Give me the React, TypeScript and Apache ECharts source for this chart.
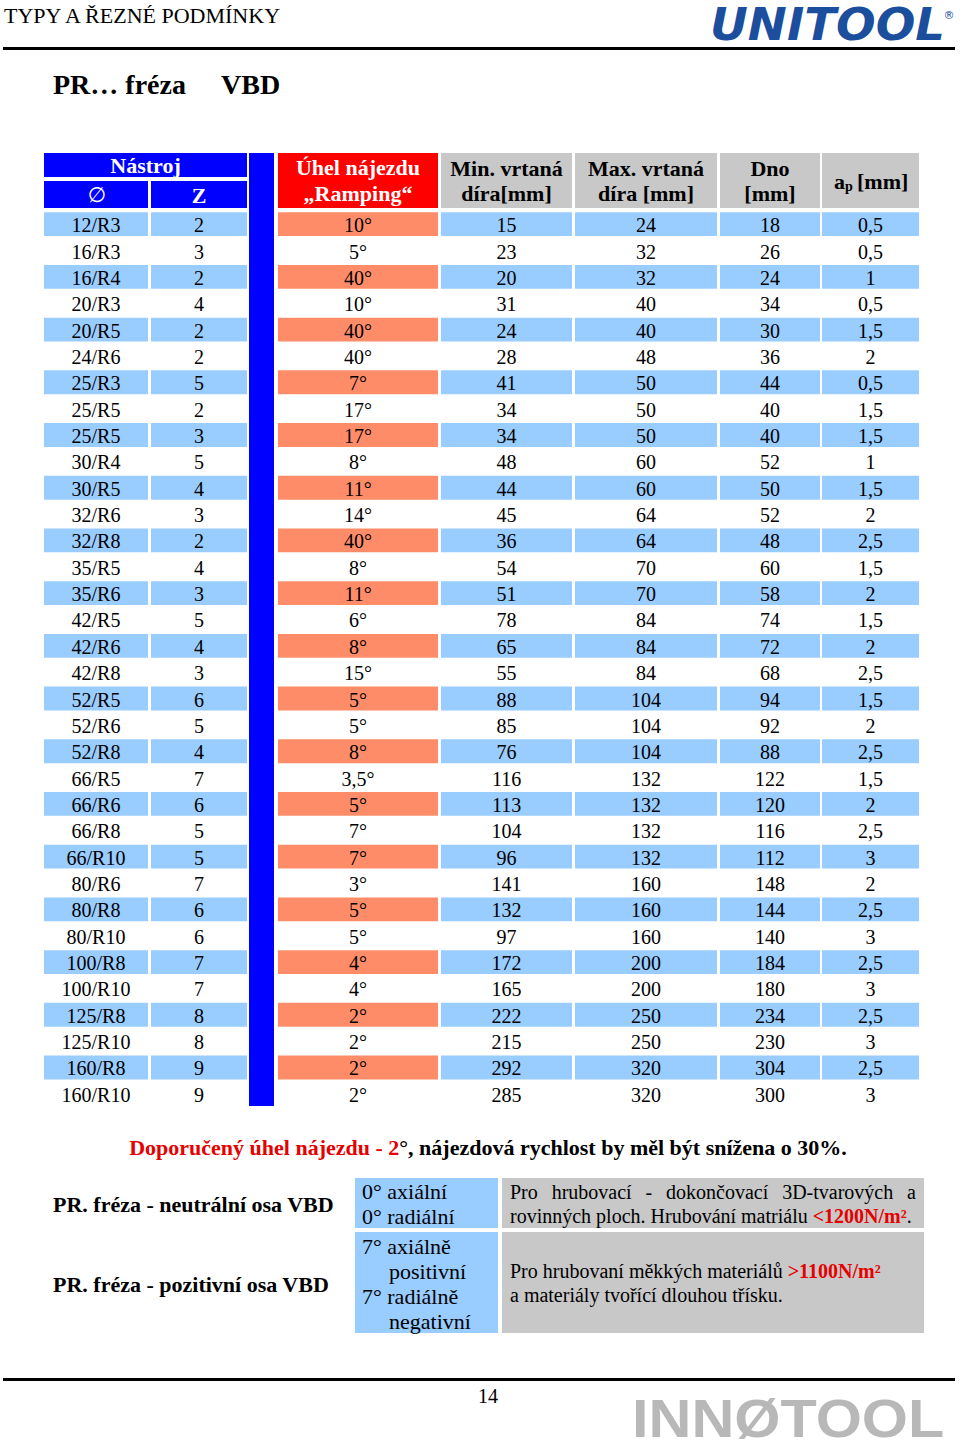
import React, { useEffect, useRef } from "react";
import * as echarts from "echarts";

// ---------- data ----------
const tools = ["12/R3","16/R3","16/R4","20/R3","20/R5","24/R6","25/R3","25/R5","25/R5","30/R4","30/R5","32/R6","32/R8","35/R5","35/R6","42/R5","42/R6","42/R8","52/R5","52/R6","52/R8","66/R5","66/R6","66/R8","66/R10","80/R6","80/R8","80/R10","100/R8","100/R10","125/R8","125/R10","160/R8","160/R10"];
const teeth = [2,3,2,4,2,2,5,2,3,5,4,3,2,4,3,5,4,3,6,5,4,7,6,5,5,7,6,6,7,7,8,8,9,9];
const rampAngle = [10,5,40,10,40,40,7,17,17,8,11,14,40,8,11,6,8,15,5,5,8,3.5,5,7,7,3,5,5,4,4,2,2,2,2];
const minHole = [15,23,20,31,24,28,41,34,34,48,44,45,36,54,51,78,65,55,88,85,76,116,113,104,96,141,132,97,172,165,222,215,292,285];
const maxHole = [24,32,32,40,40,48,50,50,50,60,60,64,64,70,70,84,84,84,104,104,104,132,132,132,132,160,160,160,200,200,250,250,320,320];
const pocketDepth = [18,26,24,34,30,36,44,40,40,52,50,52,48,60,58,74,72,68,94,92,88,122,120,116,112,148,144,140,184,180,234,230,304,300];
const apDepth = [0.5,0.5,1,0.5,1.5,2,0.5,1.5,1.5,1,1.5,2,2.5,1.5,2,1.5,2,2.5,1.5,2,2.5,1.5,2,2.5,3,2,2.5,3,2.5,3,2.5,3,2.5,3];

const headerLines = [["Min. vrtaná", "díra[mm]"], ["Max. vrtaná", "díra [mm]"], ["Dno", "[mm]"]];
const rampHeader = ["Úhel nájezdu", "„Ramping“"];
const noteRed = "Doporučený úhel nájezdu - 2";
const noteBlack = "°, nájezdová rychlost by měl být snížena o 30%.";
const typeLabels = ["PR. fréza - neutrální osa VBD", "PR. fréza - pozitivní osa VBD"];
const angleLines1 = ["0° axiální", "0° radiální"];
const angleLines2 = [["7° axiálně", 0], ["positivní", 1], ["7° radiálně", 0], ["negativní", 1]];
const descWords1 = ["Pro", "hrubovací", "-", "dokončovací", "3D-tvarových", "a"];

// ---------- style / layout ----------
const SERIF = '"Liberation Serif", "Times New Roman", serif';
const BLUE = "#99CCFF";
const SALMON = "#FF8C69";
const HEAD_BLUE = "#0000FF";
const HEAD_RED = "#FF0000";
const GRAY = "#C8C8C8";
const RED = "#E60000";
const COLS = [
  { l: 44, r: 148 }, { l: 151, r: 247 }, { l: 278, r: 438 }, { l: 441, r: 572 },
  { l: 575, r: 717 }, { l: 720, r: 820 }, { l: 822, r: 919 },
];

const fmt = (v: number) => String(v).replace(".", ",");

function measure(text: string, font: string): number {
  const c = document.createElement("canvas");
  const ctx = c.getContext("2d");
  if (!ctx) return text.length * 9;
  ctx.font = font;
  return ctx.measureText(text).width;
}

function txt(text: string, x: number, y: number, opts: any = {}) {
  return {
    type: "text",
    x, y,
    style: {
      text, x: 0, y: 0,
      align: opts.align || "center",
      verticalAlign: "middle",
      fill: opts.fill || "#000",
      fontFamily: opts.fontFamily || SERIF,
      fontSize: opts.fontSize || 20,
      fontWeight: opts.fontWeight || "normal",
      fontStyle: opts.fontStyle || "normal",
      rich: opts.rich,
    },
    scaleX: opts.scaleX || 1,
    z: 10,
  };
}
function rect(x: number, y: number, w: number, h: number, fill: string) {
  return { type: "rect", shape: { x, y, width: w, height: h }, style: { fill }, z: 1 };
}

export default function App() {
  const ref = useRef<HTMLDivElement>(null);
  useEffect(() => {
    if (!ref.current) return;
    const chart = echarts.init(ref.current, null, { renderer: "svg" });

    const g: any[] = [];
    const HB = { fontWeight: "bold", fontSize: 22 };
    // page header
    g.push(txt("TYPY A ŘEZNÉ PODMÍNKY", 4, 15, { align: "left", fontSize: 22 }));
    g.push(txt("UNITOOL", 710, 25, { align: "left", fontSize: 44, scaleX: 1.06, fontFamily: '"DejaVu Sans", sans-serif', fontWeight: "bold", fontStyle: "italic", fill: "#1B4F9E" }));
    g.push(txt("®", 949, 15, { fontSize: 11, fontFamily: '"DejaVu Sans", sans-serif', fill: "#1B4F9E" }));
    g.push(rect(3, 47, 952, 3, "#000"));
    g.push(txt("PR… fréza", 53, 84, { align: "left", fontSize: 28, fontWeight: "bold" }));
    g.push(txt("VBD", 221, 84, { align: "left", fontSize: 28, fontWeight: "bold" }));

    // table header
    g.push(rect(44, 153, 203, 24, HEAD_BLUE));
    g.push(txt("Nástroj", 145.5, 165, { fill: "#fff", ...HB }));
    g.push(rect(44, 181, 104, 27, HEAD_BLUE));
    g.push(txt("∅", 97, 195, { fill: "#fff", fontFamily: '"DejaVu Sans", sans-serif', fontSize: 21 }));
    g.push(rect(151, 181, 96, 27, HEAD_BLUE));
    g.push(txt("Z", 199, 195, { fill: "#fff", ...HB }));
    g.push(rect(249, 153, 25, 953, HEAD_BLUE));
    g.push(rect(278, 153, 160, 55, HEAD_RED));
    g.push(txt(rampHeader[0], 358, 167, { fill: "#fff", ...HB }));
    g.push(txt(rampHeader[1], 358, 193, { fill: "#fff", ...HB }));
    headerLines.forEach((lines, k) => {
      const c = COLS[3 + k];
      g.push(rect(c.l, 153, c.r - c.l, 55, GRAY));
      g.push(txt(lines[0], (c.l + c.r) / 2, 168, HB));
      g.push(txt(lines[1], (c.l + c.r) / 2, 193, HB));
    });
    g.push(rect(COLS[6].l, 153, COLS[6].r - COLS[6].l, 55, GRAY));
    g.push(txt("a", 834, 181, { align: "left", ...HB }));
    g.push(txt("p", 845, 186, { align: "left", fontWeight: "bold", fontSize: 14 }));
    g.push(txt("[mm]", 857, 181, { align: "left", ...HB }));

    // note
    g.push(txt(`{r|${noteRed}}{b|${noteBlack}}`, 488, 1147, {
      fontWeight: "bold",
      fontSize: 22,
      rich: {
        r: { fill: RED, fontSize: 22, fontWeight: "bold", fontFamily: SERIF },
        b: { fill: "#000", fontSize: 22, fontWeight: "bold", fontFamily: SERIF },
      },
    }));

    // lower table
    g.push(txt(typeLabels[0], 53, 1204, { align: "left", ...HB }));
    g.push(txt(typeLabels[1], 53, 1284, { align: "left", ...HB }));
    g.push(rect(355, 1178, 143, 50, BLUE));
    g.push(rect(355, 1232, 143, 101, BLUE));
    g.push(rect(502, 1178, 422, 50, GRAY));
    g.push(rect(502, 1232, 422, 101, GRAY));
    angleLines1.forEach((s, k) => g.push(txt(s, 362, 1191 + k * 25, { align: "left", fontSize: 22 })));
    angleLines2.forEach(([s, ind], k) => g.push(txt(s as string, ind ? 389 : 362, 1246 + k * 25, { align: "left", fontSize: 22 })));

    // justified first line
    const f = `20px ${SERIF}`;
    const widths = descWords1.map((w) => measure(w, f));
    const sum = widths.reduce((a, b) => a + b, 0);
    const gap = (916 - 510 - sum) / (descWords1.length - 1);
    let cx = 510;
    descWords1.forEach((w, k) => {
      g.push(txt(w, cx, 1192, { align: "left" }));
      cx += widths[k] + gap;
    });
    const rich = {
      n: { fill: "#000", fontSize: 20, fontFamily: SERIF },
      r: { fill: RED, fontSize: 20, fontWeight: "bold", fontFamily: SERIF },
    };
    g.push(txt("{n|rovinných ploch. Hrubování matriálu }{r|<1200N/m²}{n|.}", 510, 1216, { align: "left", rich }));
    g.push(txt("{n|Pro hrubovaní měkkých materiálů }{r|>1100N/m²}", 510, 1271, { align: "left", rich }));
    g.push(txt("a materiály tvořící dlouhou třísku.", 510, 1295, { align: "left" }));

    // footer
    g.push(rect(3, 1378, 952, 3, "#000"));
    g.push(txt("14", 488, 1396, {}));
    g.push(txt("INNØTOOL", 632, 1418, {
      align: "left", fontSize: 54, scaleX: 1.1, fontWeight: "bold", fontFamily: '"Liberation Sans", sans-serif',
      fill: "#B8B8B8",
    }));

    const option: any = {
      animation: false,
      grid: { left: 0, right: 0, top: 211, bottom: 343 },
      xAxis: { type: "value", min: 0, max: 960, show: false },
      yAxis: { type: "value", min: -0.5, max: tools.length - 0.5, inverse: true, show: false },
      graphic: { elements: g },
      series: [
        {
          type: "custom",
          data: tools.map((_, i) => [0, i]),
          encode: { x: 0, y: 1 },
          renderItem: (params: any, api: any) => {
            const i = api.value(1);
            const cy = api.coord([0, i])[1];
            const band = api.size([0, 1])[1];
            const h = band - 2.5;
            const shaded = i % 2 === 0;
            const texts = [
              tools[i], String(teeth[i]), fmt(rampAngle[i]) + "°", String(minHole[i]),
              String(maxHole[i]), String(pocketDepth[i]), fmt(apDepth[i]),
            ];
            const children: any[] = [];
            COLS.forEach((c, k) => {
              if (shaded) {
                children.push({
                  type: "rect",
                  shape: { x: c.l, y: cy - h / 2, width: c.r - c.l, height: h },
                  style: { fill: k === 2 ? SALMON : BLUE },
                });
              }
              children.push({
                type: "text",
                x: (c.l + c.r) / 2,
                y: cy + 1,
                style: {
                  text: texts[k], x: 0, y: 0, align: "center", verticalAlign: "middle",
                  fill: "#000", fontSize: 20, fontFamily: SERIF,
                },
              });
            });
            return { type: "group", children };
          },
        },
      ],
    };
    chart.setOption(option);
    return () => chart.dispose();
  }, []);
  return <div ref={ref} style={{ position: "absolute", left: 0, top: 0, width: 960, height: 1450 }} />;
}
